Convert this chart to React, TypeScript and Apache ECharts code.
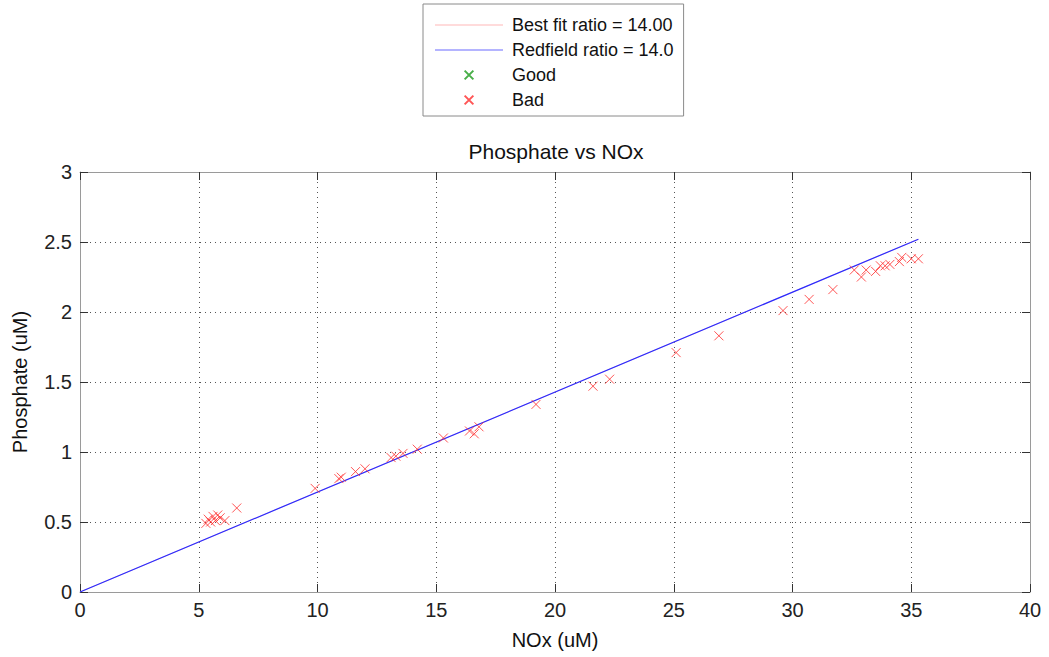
import React, { useEffect, useRef } from "react";
import * as echarts from "echarts";

const noxValues = [5.3, 5.4, 5.5, 5.6, 5.7, 5.8, 5.9, 6.1, 6.6, 9.9, 10.9, 11.0, 11.6, 12.0, 13.1, 13.3, 13.6, 14.2, 15.3, 16.4, 16.6, 16.8, 19.2, 21.6, 22.3, 25.1, 26.9, 29.6, 30.7, 31.7, 32.6, 32.9, 33.1, 33.5, 33.7, 33.9, 34.1, 34.5, 34.6, 35.0, 35.3];
const phosphateValues = [0.49, 0.52, 0.5, 0.54, 0.51, 0.55, 0.53, 0.51, 0.6, 0.74, 0.81, 0.82, 0.86, 0.88, 0.96, 0.97, 0.99, 1.02, 1.1, 1.15, 1.13, 1.18, 1.34, 1.47, 1.52, 1.71, 1.83, 2.01, 2.09, 2.16, 2.3, 2.25, 2.3, 2.29, 2.33, 2.33, 2.34, 2.36, 2.39, 2.38, 2.38];
const lineX = [0, 35.3];
const bestFitY = [0, 2.52];
const redfieldY = [0, 2.52];
const legendNames = ["Best fit ratio = 14.00", "Redfield ratio = 14.0", "Good", "Bad"];

const CROSS = "path://M0,0L10,10M10,0L0,10";
const LEGEND_CROSS = "path://M-3,-3M0,0L10,10M10,0L0,10M13,13";
const LEGEND_LINE = "path://M0,0L68,0L68,1L0,1Z";

export default function App() {
  const ref = useRef<HTMLDivElement>(null);
  useEffect(() => {
    document.body.style.margin = "0";
    const chart = echarts.init(ref.current!, null, { renderer: "svg" });
    const font = "Liberation Sans, Arial, sans-serif";
    const fs = 20;
    const axisCommon = {
      type: "value" as const,
      axisLine: { show: true, onZero: false, lineStyle: { color: "#9a9a9a", width: 1 } },
      axisTick: { show: true, inside: true, length: 8, lineStyle: { color: "#333" } },
    };
    chart.setOption({
      animation: false,
      backgroundColor: "#ffffff",
      textStyle: { fontFamily: font },
      title: {
        text: "Phosphate vs NOx",
        left: 551,
        top: 136,
        textAlign: "center",
        textStyle: { fontSize: 21, fontWeight: "normal", color: "#111", fontFamily: font },
      },
      legend: {
        data: [
          { name: legendNames[0], icon: LEGEND_LINE },
          { name: legendNames[1], icon: LEGEND_LINE },
          { name: legendNames[2], icon: LEGEND_CROSS },
          { name: legendNames[3], icon: LEGEND_CROSS },
        ],
        orient: "vertical",
        left: 423,
        top: 4,
        padding: [11, 10, 6, 12],
        itemGap: 5,
        itemWidth: 68,
        itemHeight: 14,
        borderColor: "#8a8a8a",
        borderWidth: 1,
        backgroundColor: "#fff",
        textStyle: { fontSize: 18, lineHeight: 20, color: "#111", fontFamily: font, padding: [0, 0, 0, 4] },
        selectedMode: false,
      },
      grid: { left: 80, right: 19, top: 172, bottom: 65, show: false },
      xAxis: [
        {
          ...axisCommon,
          min: 0,
          max: 40,
          interval: 5,
          position: "bottom",
          name: "NOx (uM)",
          nameLocation: "middle",
          nameGap: 38,
          nameTextStyle: { fontSize: fs, color: "#111", fontFamily: font },
          axisLabel: { fontSize: fs, color: "#222", margin: 8, fontFamily: font },
          splitLine: { show: true, lineStyle: { color: "#555", type: [1, 4], width: 1 } },
        },
        {
          ...axisCommon,
          min: 0,
          max: 40,
          interval: 5,
          position: "top",
          axisLabel: { show: false },
          splitLine: { show: false },
        },
      ],
      yAxis: [
        {
          ...axisCommon,
          min: 0,
          max: 3,
          interval: 0.5,
          position: "left",
          name: "Phosphate (uM)",
          nameLocation: "middle",
          nameGap: 50,
          nameTextStyle: { fontSize: 20, color: "#111", fontFamily: font },
          axisLabel: { fontSize: fs, color: "#222", margin: 8, fontFamily: font },
          splitLine: { show: true, lineStyle: { color: "#555", type: [1, 4], width: 1 } },
        },
        {
          ...axisCommon,
          min: 0,
          max: 3,
          interval: 0.5,
          position: "right",
          axisLabel: { show: false },
          splitLine: { show: false },
        },
      ],
      series: [
        {
          name: legendNames[0],
          type: "line",
          data: lineX.map((x, i) => [x, bestFitY[i]]),
          showSymbol: false,
          symbol: "none",
          lineStyle: { color: "#ffc8c8", width: 1 },
          itemStyle: { color: "#ffb8b8" },
          z: 2,
        },
        {
          name: legendNames[1],
          type: "line",
          data: lineX.map((x, i) => [x, redfieldY[i]]),
          showSymbol: false,
          symbol: "none",
          lineStyle: { color: "#2a2aff", width: 1.2 },
          itemStyle: { color: "#6a6aff" },
          z: 3,
        },
        {
          name: legendNames[2],
          type: "scatter",
          data: [],
          symbol: CROSS,
          symbolSize: 9,
          itemStyle: { color: "rgba(0,0,0,0)", borderColor: "#1a9a1a", borderWidth: 1 },
        },
        {
          name: legendNames[3],
          type: "scatter",
          data: noxValues.map((x, i) => [x, phosphateValues[i]]),
          symbol: CROSS,
          symbolSize: 9,
          itemStyle: { color: "rgba(0,0,0,0)", borderColor: "#ff2a2a", borderWidth: 1, opacity: 0.8 },
          z: 4,
        },
      ],
    });
    return () => chart.dispose();
  }, []);
  return (
    <div
      ref={ref}
      style={{ position: "absolute", left: 0, top: 0, width: 1049, height: 657 }}
    />
  );
}
